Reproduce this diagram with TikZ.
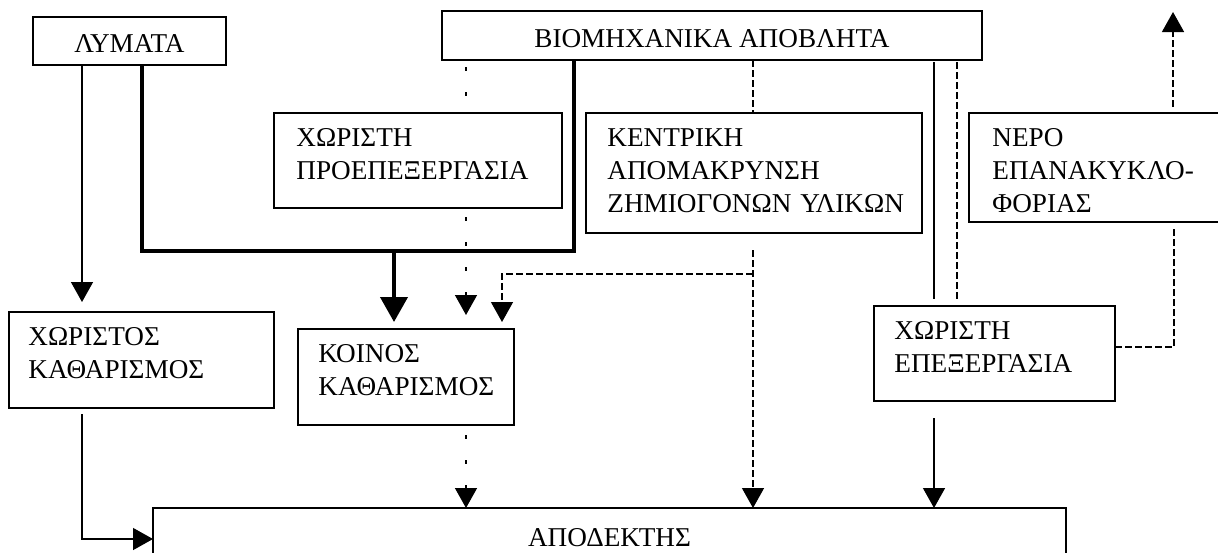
\documentclass[tikz,border=0pt]{standalone}
\usepackage{fontspec}
\setmainfont{Liberation Serif}
\usetikzlibrary{arrows.meta,backgrounds}

\begin{document}
\begin{tikzpicture}[x=0.5pt,y=-0.5pt,
  box/.style={draw, line width=0.7pt, fill=white, rectangle, inner sep=0pt,
    outer sep=0pt, anchor=north west},
  txt/.style={font=\fontsize{13.6pt}{16.5pt}\selectfont, inner sep=0pt},
  lbl/.style={txt, text width=#1, align=left, anchor=base west},
  ctr/.style={txt, anchor=base},
  thinln/.style={line width=0.7pt},
  thickln/.style={line width=2pt},
  dashedln/.style={line width=0.7pt, dash pattern=on 3.4pt off 1.6pt},
  dotln/.style={line width=0.7pt, dash pattern=on 2pt off 10.5pt, dash phase=9pt},
  tip/.style={-{Triangle[length=10pt,width=11pt]}},
  bigtip/.style={-{Triangle[length=12.5pt,width=13.5pt]}},
]
\useasboundingbox (0,0) rectangle (1218,552);
\clip (0,0) rectangle (1218,552);

% boxes
\node[box, minimum width=96.5pt, minimum height=24pt] (lym) at (33,17) {};
\node[box, minimum width=270pt, minimum height=24.5pt] (bio) at (442,11) {};
\node[box, minimum width=144pt, minimum height=47.5pt] (proep) at (274,113) {};
\node[box, minimum width=168pt, minimum height=60pt] (kentr) at (586,113) {};
\node[box, minimum width=130pt, minimum height=54.5pt] (nero) at (969,113) {};
\node[box, minimum width=132.5pt, minimum height=48pt] (xkath) at (9,312) {};
\node[box, minimum width=108pt, minimum height=48pt] (koin) at (298,329) {};
\node[box, minimum width=120.5pt, minimum height=47.5pt] (xepex) at (874,306) {};
\node[box, minimum width=456.5pt, minimum height=30pt] (apod) at (153,508) {};

% box texts
\node[ctr] (lymT) at (129.5,52) {ΛΥΜΑΤΑ};
\node[ctr] (bioT) at (712,47) {ΒΙΟΜΗΧΑΝΙΚΑ ΑΠΟΒΛΗΤΑ};
\node[lbl=132pt] (proepT) at (296,146) {ΧΩΡΙΣΤΗ\\ΠΡΟΕΠΕΞΕΡΓΑΣΙΑ};
\node[lbl=155pt] (kentrT) at (607,146) {ΚΕΝΤΡΙΚΗ\\ΑΠΟΜΑΚΡΥΝΣΗ\\ΖΗΜΙΟΓΟΝΩΝ ΥΛΙΚΩΝ};
\node[lbl=105pt] (neroT) at (992,146) {ΝΕΡΟ\\ΕΠΑΝΑΚΥΚΛΟ-\\ΦΟΡΙΑΣ};
\node[lbl=120pt] (xkathT) at (28,345) {ΧΩΡΙΣΤΟΣ\\ΚΑΘΑΡΙΣΜΟΣ};
\node[lbl=95pt] (koinT) at (318,362) {ΚΟΙΝΟΣ\\ΚΑΘΑΡΙΣΜΟΣ};
\node[lbl=108pt] (xepexT) at (894,339) {ΧΩΡΙΣΤΗ\\ΕΠΕΞΕΡΓΑΣΙΑ};
\node[ctr] (apodT) at (609.5,546) {ΑΠΟΔΕΚΤΗΣ};

% connector end points
\coordinate (lymA) at (82,59);    \coordinate (xkathIn) at (82,302);
\coordinate (lymB) at (142,59);   \coordinate (joinR) at (574,251);
\coordinate (bioA) at (574,60);
\coordinate (joinD) at (394,251); \coordinate (koinInA) at (394,322);
\coordinate (bioDot) at (466,60); \coordinate (koinInB) at (466,315);
\coordinate (koinOut) at (466,428); \coordinate (apodInA) at (466,508);
\coordinate (bioDash) at (753,60); \coordinate (kentrIn) at (753,113);
\coordinate (kentrOut) at (753,250); \coordinate (apodInB) at (753,508);
\coordinate (split) at (753,274); \coordinate (koinInC) at (502,322);
\coordinate (bioS) at (934,62);   \coordinate (xepexInA) at (934,299);
\coordinate (bioD) at (957,62);   \coordinate (xepexInB) at (957,299);
\coordinate (xepexOut) at (934,418); \coordinate (apodInC) at (934,508);
\coordinate (xepexR) at (1115,347); \coordinate (neroIn) at (1174,227);
\coordinate (neroOut) at (1173,107); \coordinate (upEnd) at (1173,12);
\coordinate (xkathOut) at (82,414); \coordinate (apodInD) at (153,539);

% connectors, kept behind the boxes
\begin{pgfonlayer}{background}
  \draw[thinln, tip] (lymA) -- (xkathIn);
  \draw[thickln] (lymB) |- (joinR) -- (bioA);
  \draw[thickln, bigtip] (joinD) -- (koinInA);
  \draw[dotln, tip] (bioDot) -- (koinInB);
  \draw[dotln, tip] (koinOut) -- (apodInA);
  \draw[dashedln] (bioDash) -- (kentrIn);
  \draw[dashedln, tip] (kentrOut) -- (apodInB);
  \draw[dashedln, tip] (split) -| (koinInC);
  \draw[thinln] (bioS) -- (xepexInA);
  \draw[dashedln] (bioD) -- (xepexInB);
  \draw[thinln, tip] (xepexOut) -- (apodInC);
  \draw[dashedln] (xepexR) -| (neroIn);
  \draw[dashedln, tip] (neroOut) -- (upEnd);
  \draw[thinln, tip] (xkathOut) |- (apodInD);
\end{pgfonlayer}
\end{tikzpicture}
\end{document}
